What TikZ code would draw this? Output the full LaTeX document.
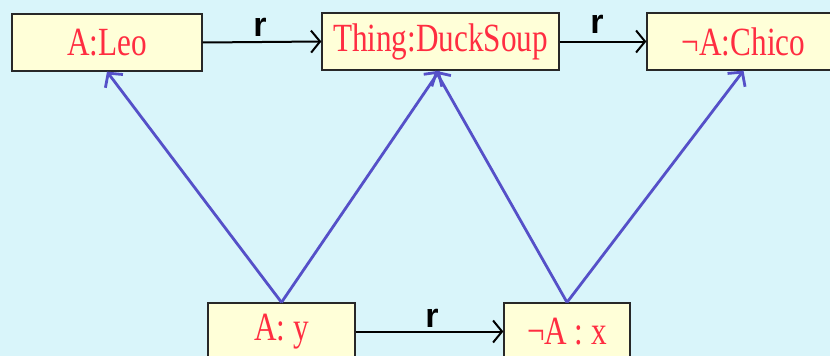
\documentclass[tikz,border=0pt]{standalone}
\usepackage{fontspec}
\setmainfont{Liberation Serif}
\newfontfamily\boxfont[FakeStretch=0.78]{Liberation Serif}
\newfontfamily\lblfont{Liberation Sans}
\usetikzlibrary{arrows.meta}
\definecolor{bgc}{RGB}{217,245,250}
\definecolor{boxfill}{RGB}{255,255,216}
\definecolor{boxline}{RGB}{40,40,40}
\definecolor{txtred}{RGB}{255,45,65}
\definecolor{isablue}{RGB}{85,80,200}
\tikzset{
  cbox/.style={draw=boxline, line width=1.3pt, fill=boxfill, text=txtred,
    font=\boxfont\fontsize{40}{40}\selectfont, minimum height=57pt, inner sep=0pt},
  rel/.style={draw=black, line width=2pt,
    -{Straight Barb[length=9pt,width=22pt,line width=2pt]}},
  isa/.style={draw=isablue, line width=2.8pt,
    -{Straight Barb[length=10pt,width=22pt,line width=2.8pt]}},
  rlabel/.style={font=\lblfont\bfseries\fontsize{34}{34}\selectfont, inner sep=0pt}
}
\begin{document}
\begin{tikzpicture}[x=1pt,y=-1pt]
\fill[bgc] (0,0) rectangle (830,356);
\useasboundingbox (0,0) rectangle (830,356);
\clip (0,0) rectangle (830,356);
\node[cbox, minimum width=190pt] (leo) at (107,42.5) {A:Leo};
\node[cbox, minimum width=237pt] (duck) at (440.5,41.5) {Thing:DuckSoup};
\node[cbox, minimum width=193pt] (chico) at (743.5,41.5) {¬A:Chico};
\node[cbox, minimum width=147pt] (ay) at (281.5,331.5) {A: y};
\node[cbox, minimum width=126pt] (nax) at (567,331.5) {¬A : x};
\draw[rel] (leo.east) -- (duck.west);
\draw[rel] (duck.east) -- (chico.west);
\draw[rel] (ay.east) -- (nax.west);
\node[rlabel] (r1) at (260,27) {r};
\node[rlabel] (r2) at (597,24) {r};
\node[rlabel] (r3) at (432,318) {r};
\draw[isa] (ay.north) -- (leo.south);
\draw[isa] (ay.north) -- ([xshift=-1pt]duck.south);
\draw[isa] (nax.north) -- ([xshift=-5pt]duck.south);
\draw[isa] (nax.north) -- (chico.south);
\end{tikzpicture}
\end{document}
